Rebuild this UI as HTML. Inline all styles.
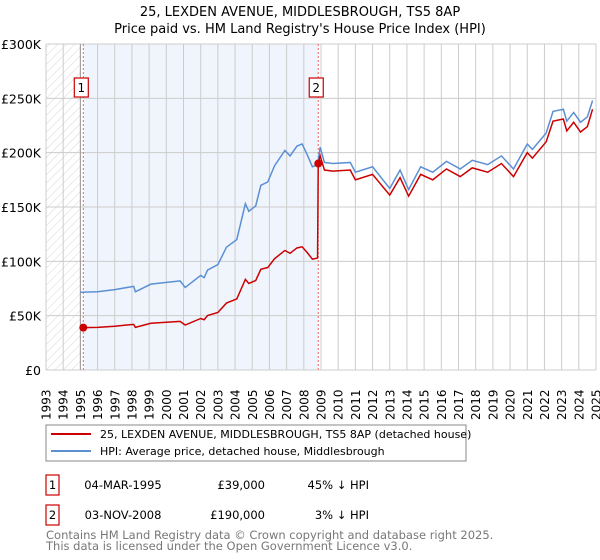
<!DOCTYPE html>
<html><head><meta charset="utf-8">
<style>
body{margin:0;background:#fff;font-family:"Liberation Sans","DejaVu Sans",sans-serif;}
#wrap{position:relative;width:600px;height:560px;overflow:hidden;}
svg text{font-family:"DejaVu Sans","Liberation Sans",sans-serif;}
.t{position:absolute;font-family:"DejaVu Sans","Liberation Sans",sans-serif;font-size:11.5px;color:#000;white-space:nowrap;}
</style></head><body>
<div id="wrap">
<svg id="chart" width="600" height="560"></svg>
<div class="t" style="left:46px;top:530px;font-size:11.5px;color:#777;line-height:10.5px">Contains HM Land Registry data © Crown copyright and database right 2025.<br>This data is licensed under the Open Government Licence v3.0.</div>
</div>
<script>
const years=[1993,1994,1995,1996,1997,1998,1999,2000,2001,2002,2003,2004,2005,2006,2007,2008,2009,2010,2011,2012,2013,2014,2015,2016,2017,2018,2019,2020,2021,2022,2023,2024,2025];
const yTicks=[0,50,100,150,200,250,300];
const yTickLabels=["£0","£50K","£100K","£150K","£200K","£250K","£300K"];
const hpiDates=[1995.0,1996,1997,1998.1,1998.2,1999.1,2000.8,2001.1,2002,2002.2,2002.4,2003,2003.5,2004.1,2004.6,2004.8,2005.2,2005.5,2005.9,2006.3,2006.9,2007.2,2007.6,2007.9,2008.2,2008.5,2008.8,2008.95,2009.2,2009.7,2010.7,2011.0,2012,2013,2013.6,2014.1,2014.8,2015.5,2016.3,2017.1,2017.8,2018.7,2019.5,2020.2,2021,2021.3,2022.1,2022.5,2023.1,2023.3,2023.7,2024.1,2024.5,2024.8];
const hpiValues=[71.6,72,74,77,72,79,82,76,87,85,92,97,113,120,153,146,151,170,173,188,202,197,206,208,198,187,189,205,191,190,191,182,187,167,184,166,187,182,192,185,193,189,197,185,208,203,218,238,240,229,237,228,233,248];
const redDates=[1995.17,1996,1997,1998.1,1998.2,1999.1,2000.8,2001.1,2002,2002.2,2002.4,2003,2003.5,2004.1,2004.6,2004.8,2005.2,2005.5,2005.9,2006.3,2006.9,2007.2,2007.6,2007.9,2008.2,2008.5,2008.8,2008.84,2008.95,2009.2,2009.7,2010.7,2011.0,2012,2013,2013.6,2014.1,2014.8,2015.5,2016.3,2017.1,2017.8,2018.7,2019.5,2020.2,2021,2021.3,2022.1,2022.5,2023.1,2023.3,2023.7,2024.1,2024.5,2024.8];
const redValues=[39,39.2,40.3,42,39.2,43,44.7,41.4,47.4,46.3,50.1,52.9,61.6,65.4,83.4,79.6,82.3,92.7,94.3,102.5,110,107.4,112.3,113.4,108,102,103,190,197,184,183,184,175,180,161,177,160,180,175,185,178,186,182,190,178,200,195,210,229,231,220,228,219,224,240];
const sales=[{n:"1",d:1995.17,v:39},{n:"2",d:2008.84,v:190}];

const NS="http://www.w3.org/2000/svg";
const svg=document.getElementById('chart');
const X0=46,X1=596,Y0=370,Y1=44;
const xs=d=>X0+(d-1993)/(2025-1993)*(X1-X0);
const ys=v=>Y0-v/300*(Y0-Y1);
function el(tag,attrs,parent){const e=document.createElementNS(NS,tag);for(const k in attrs)e.setAttribute(k,attrs[k]);(parent||svg).appendChild(e);return e;}

const defs=el('defs',{});
const pat=el('pattern',{id:'hatch',width:6,height:6,patternUnits:'userSpaceOnUse',patternTransform:'rotate(45)'},defs);
el('line',{x1:0,y1:0,x2:0,y2:6,stroke:'#ccc','stroke-width':0.8},pat);

let t=el('text',{x:300,y:16,'text-anchor':'middle','font-size':13});t.textContent="25, LEXDEN AVENUE, MIDDLESBROUGH, TS5 8AP";


t=el('text',{x:300,y:33,'text-anchor':'middle','font-size':13});t.textContent="Price paid vs. HM Land Registry's House Price Index (HPI)";



let r=el('rect',{x:X0,y:Y1,width:xs(1995.0)-X0,height:Y0-Y1,fill:'url(#hatch)'});


r=el('rect',{x:xs(sales[0].d),y:Y1,width:xs(sales[1].d)-xs(sales[0].d),height:Y0-Y1,fill:'#f0f5fd'});



years.forEach(y=>{
  const l=el('line',{x1:xs(y),x2:xs(y),y1:Y1,y2:Y0,stroke:'#ccc','stroke-width':1});
  
  
  const tx=el('text',{x:0,y:0,'font-size':12,transform:`translate(${xs(y)+4.5},${420}) rotate(-90)`});
  tx.textContent=y;
  
  
});
yTicks.forEach((v,i)=>{
  const l=el('line',{x1:X0,x2:X1,y1:ys(v),y2:ys(v),stroke:'#ccc','stroke-width':1});
  
  
  const tx=el('text',{x:41,y:ys(v)+5,'text-anchor':'end','font-size':12.5});
  tx.textContent=yTickLabels[i];
  
  
});
let l0=el('line',{x1:xs(1995.0),x2:xs(1995.0),y1:Y1,y2:Y0,stroke:'#999','stroke-width':1});



sales.forEach(s=>{
  const l=el('line',{x1:xs(s.d),x2:xs(s.d),y1:Y1,y2:Y0,stroke:'#e66','stroke-width':1,'stroke-dasharray':'2,2'});
  
  
});

let p=el('polyline',{points:hpiDates.map((d,i)=>xs(d)+','+ys(hpiValues[i])).join(' '),fill:'none',stroke:'#5b8fd4','stroke-width':1.5});


p=el('polyline',{points:redDates.map((d,i)=>xs(d)+','+ys(redValues[i])).join(' '),fill:'none',stroke:'#cc0000','stroke-width':1.5});



sales.forEach(s=>{
  const c=el('circle',{cx:xs(s.d),cy:ys(s.v),r:4,fill:'#cc0000'});
  
  
  const g=el('g',{});
  
  
  el('rect',{x:xs(s.d)-9,y:78,width:14,height:19,fill:'#fff',stroke:'#cc0000','stroke-width':1.2},g);
  const tx=el('text',{x:xs(s.d)-2,y:92,'text-anchor':'middle','font-size':12},g);tx.textContent=s.n;
});

// legend
const lg=el('g',{});


el('rect',{x:46,y:425,width:420,height:36,fill:'#fff',stroke:'#888','stroke-width':1},lg);
el('line',{x1:51,x2:91,y1:434,y2:434,stroke:'#cc0000','stroke-width':2},lg);
el('line',{x1:51,x2:91,y1:451,y2:451,stroke:'#5b8fd4','stroke-width':2},lg);
let lt=el('text',{x:100,y:438,'font-size':11},lg);lt.textContent="25, LEXDEN AVENUE, MIDDLESBROUGH, TS5 8AP (detached house)";


lt=el('text',{x:100,y:455,'font-size':11},lg);lt.textContent="HPI: Average price, detached house, Middlesbrough";



// table
const rows=[["1","04-MAR-1995","£39,000","45% ↓ HPI",485],["2","03-NOV-2008","£190,000","3% ↓ HPI",515]];
rows.forEach(rw=>{
  const g=el('g',{});
  
  
  const y=rw[4];
  el('rect',{x:46,y:y-10,width:13,height:20,fill:'#fff',stroke:'#cc0000','stroke-width':1.2},g);
  let a=el('text',{x:52.5,y:y+4,'text-anchor':'middle','font-size':11.5},g);a.textContent=rw[0];
  a=el('text',{x:123,y:y+4,'text-anchor':'middle','font-size':11.5},g);a.textContent=rw[1];
  a=el('text',{x:265,y:y+4,'text-anchor':'end','font-size':11.5},g);a.textContent=rw[2];
  a=el('text',{x:369,y:y+4,'text-anchor':'end','font-size':11.5},g);a.textContent=rw[3];
});
</script>
</body></html>
